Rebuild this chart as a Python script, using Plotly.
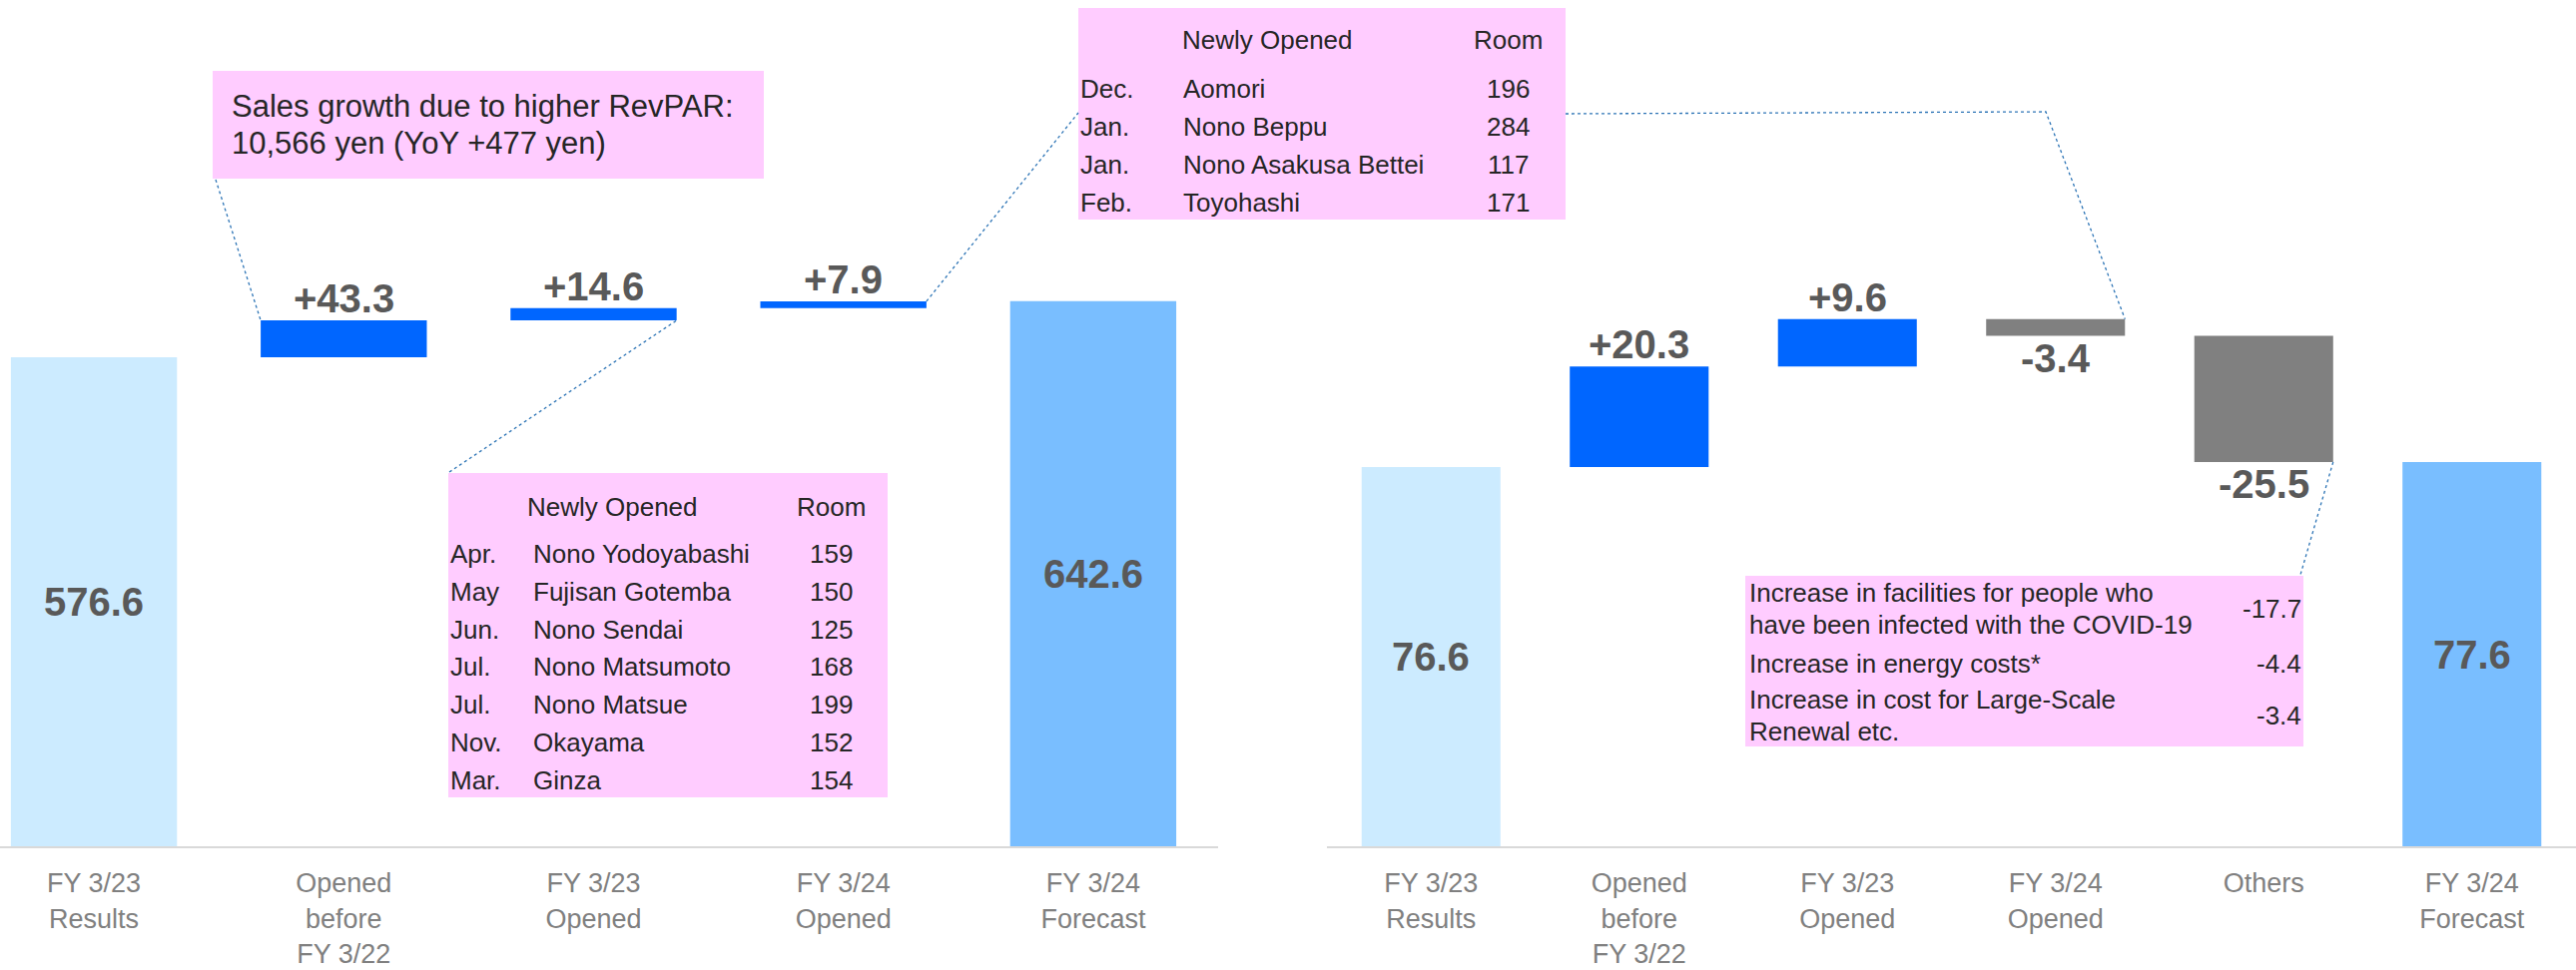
import plotly.graph_objects as go

# ---------------- data ----------------
left_categories = ["FY 3/23<br>Results", "Opened<br>before<br>FY 3/22", "FY 3/23<br>Opened",
                   "FY 3/24<br>Opened", "FY 3/24<br>Forecast"]
left_start = 576.6
left_deltas = [43.3, 14.6, 7.9]
left_end = 642.6

right_categories = ["FY 3/23<br>Results", "Opened<br>before<br>FY 3/22", "FY 3/23<br>Opened",
                    "FY 3/24<br>Opened", "Others", "FY 3/24<br>Forecast"]
right_start = 76.6
right_deltas = [20.3, 9.6, -3.4, -25.5]
right_end = 77.6

sales_note = ["Sales growth due to higher RevPAR:", "10,566 yen (YoY +477 yen)"]

table_header = ["Newly Opened", "Room"]
fy23_months = ["Apr.", "May", "Jun.", "Jul.", "Jul.", "Nov.", "Mar."]
fy23_hotels = ["Nono Yodoyabashi", "Fujisan Gotemba", "Nono Sendai", "Nono Matsumoto",
               "Nono Matsue", "Okayama", "Ginza"]
fy23_rooms = [159, 150, 125, 168, 199, 152, 154]

fy24_months = ["Dec.", "Jan.", "Jan.", "Feb."]
fy24_hotels = ["Aomori", "Nono Beppu", "Nono Asakusa Bettei", "Toyohashi"]
fy24_rooms = [196, 284, 117, 171]

others_items = ["Increase in facilities for people who<br>have been infected with the COVID-19",
                "Increase in energy costs*",
                "Increase in cost for Large-Scale<br>Renewal etc."]
others_values = [-17.7, -4.4, -3.4]

# ---------------- styling / layout geometry ----------------
W, H = 2580, 972
PB = 848                       # plot bottom in px (axis line)
FONT = "Liberation Sans, Arial, sans-serif"
C_START = "#CCEBFF"
C_UP = "#0066FF"
C_DOWN = "#808080"
C_END = "#79BEFF"
C_PINK = "#FFCCFF"
C_VAL = "#595959"
C_TICK = "#808080"
C_TXT = "#262626"
C_LEAD = "#2E75B6"

L_DOM = (0, 1220)              # px
L_RANGE = (-0.376, 4.5)
L_YMAX = PB / 0.85
R_DOM = (1329, 2580)
R_RANGE = (-0.5, 5.5)
R_YMAX = PB / 4.961
L_BW = 0.665
R_BW = 0.667


def px(x):
    return x / W


def py(y):
    return (PB - y) / PB


def lx(p):
    return L_RANGE[0] + (p - L_DOM[0]) / (L_DOM[1] - L_DOM[0]) * (L_RANGE[1] - L_RANGE[0])


def rx(p):
    return R_RANGE[0] + (p - R_DOM[0]) / (R_DOM[1] - R_DOM[0]) * (R_RANGE[1] - R_RANGE[0])


def ly(p):
    return (PB - p) / PB * L_YMAX


def ry(p):
    return (PB - p) / PB * R_YMAX


fig = go.Figure()
annotations = []
shapes = []


def waterfall(cats, start, deltas, end, xa, ya, bw):
    n = len(cats)
    bases, heights, colors = [0], [start], [C_START]
    run = start
    for d in deltas:
        bases.append(run)
        heights.append(d)
        colors.append(C_UP if d >= 0 else C_DOWN)
        run += d
    bases.append(0)
    heights.append(end)
    colors.append(C_END)
    fig.add_trace(go.Bar(
        x=list(range(n)), y=heights, base=bases, width=bw,
        marker=dict(color=colors, line=dict(width=0)),
        xaxis=xa, yaxis=ya, hoverinfo="skip", showlegend=False))
    vfont = dict(size=40, color=C_VAL, family=FONT)
    for i, (b, h) in enumerate(zip(bases, heights)):
        if i == 0 or i == n - 1:
            annotations.append(dict(x=i, y=h / 2, xref=xa, yref=ya, text=f"<b>{h:.1f}</b>",
                                    showarrow=False, font=vfont, xanchor="center", yanchor="middle"))
        elif h >= 0:
            annotations.append(dict(x=i, y=b + h, xref=xa, yref=ya, text=f"<b>{h:+.1f}</b>",
                                    showarrow=False, font=vfont, xanchor="center", yanchor="bottom",
                                    yshift=-2))
        else:
            annotations.append(dict(x=i, y=b + h, xref=xa, yref=ya, text=f"<b>{h:+.1f}</b>",
                                    showarrow=False, font=vfont, xanchor="center", yanchor="top",
                                    yshift=2))
    return bases, heights


lb, lh = waterfall(left_categories, left_start, left_deltas, left_end, "x", "y", L_BW)
rb, rh = waterfall(right_categories, right_start, right_deltas, right_end, "x2", "y2", R_BW)


def txt(x, y, s, size, anchor="left", color=C_TXT):
    annotations.append(dict(x=px(x), y=py(y), xref="paper", yref="paper", text=s, showarrow=False,
                            font=dict(size=size, color=color, family=FONT),
                            xanchor=anchor, yanchor="middle"))


def box(x0, y0, x1, y1):
    shapes.append(dict(type="rect", xref="paper", yref="paper", x0=px(x0), x1=px(x1),
                       y0=py(y1), y1=py(y0), fillcolor=C_PINK, line=dict(width=0), layer="above"))


# --- sales note box ---
box(213, 71, 765, 179)
for k, line in enumerate(sales_note):
    txt(230, 107 + 37 * k, line, 31)

# --- FY3/23 opened table ---
box(449, 474, 889, 799)
txt(526, 508, table_header[0], 26)
txt(832, 508, table_header[1], 26, "center")
for k, (m, hname, r) in enumerate(zip(fy23_months, fy23_hotels, fy23_rooms)):
    yy = 555 + 37.8 * k
    txt(449, yy, m, 26)
    txt(532, yy, hname, 26)
    txt(832, yy, str(r), 26, "center")

# --- FY3/24 opened table ---
box(1080, 8, 1568, 220)
txt(1182, 40, table_header[0], 26)
txt(1510, 40, table_header[1], 26, "center")
for k, (m, hname, r) in enumerate(zip(fy24_months, fy24_hotels, fy24_rooms)):
    yy = 89 + 38 * k
    txt(1080, yy, m, 26)
    txt(1183, yy, hname, 26)
    txt(1510, yy, str(r), 26, "center")

# --- Others box ---
box(1748, 577, 2307, 748)
item_centers = [610, 665, 717]
for item, val, yc in zip(others_items, others_values, item_centers):
    lines = item.split("<br>")
    nl = len(lines)
    for j, line in enumerate(lines):
        txt(1750, yc + (j - (nl - 1) / 2) * 32, line, 26)
    txt(2307, yc, f"{val:.1f}", 26, "right")

# --- leader lines ---
lead = dict(color=C_LEAD, width=1.3, dash="dot")
shapes.append(dict(type="line", xref="x", yref="y", x0=lx(216), y0=ly(180),
                   x1=1 - L_BW / 2, y1=lb[1] + lh[1], line=lead, layer="above"))
shapes.append(dict(type="line", xref="x", yref="y", x0=lx(450), y0=ly(473),
                   x1=2 + L_BW / 2, y1=lb[2], line=lead, layer="above"))
shapes.append(dict(type="line", xref="x", yref="y", x0=3 + L_BW / 2, y0=lb[3] + lh[3],
                   x1=lx(1080), y1=ly(113), line=lead, layer="above"))
p4 = (rx(1568), ry(114), rx(2049), ry(112), 3 + R_BW / 2, rb[3])
shapes.append(dict(type="path", xref="x2", yref="y2",
                   path=f"M {p4[0]},{p4[1]} L {p4[2]},{p4[3]} L {p4[4]},{p4[5]}",
                   line=lead, layer="above"))
shapes.append(dict(type="line", xref="x2", yref="y2", x0=4 + R_BW / 2, y0=rb[4] + rh[4],
                   x1=rx(2304), y1=ry(576), line=lead, layer="above"))

axis_common = dict(showgrid=False, zeroline=False, showline=True, linecolor="#D9D9D9", linewidth=2,
                   ticks="", tickfont=dict(size=27, color=C_TICK, family=FONT),
                   ticklabelstandoff=12, fixedrange=True, automargin=False)
fig.update_layout(
    width=W, height=H,
    margin=dict(l=0, r=0, t=0, b=H - PB, pad=0, autoexpand=False),
    paper_bgcolor="white", plot_bgcolor="white",
    barmode="overlay",
    xaxis=dict(domain=[px(L_DOM[0]), px(L_DOM[1])], range=list(L_RANGE),
               tickmode="array", tickvals=list(range(len(left_categories))), ticktext=left_categories,
               **axis_common),
    yaxis=dict(domain=[0, 1], range=[0, L_YMAX], visible=False, fixedrange=True, automargin=False),
    xaxis2=dict(domain=[px(R_DOM[0]), 1], range=list(R_RANGE), anchor="y2",
                tickmode="array", tickvals=list(range(len(right_categories))), ticktext=right_categories,
                **axis_common),
    yaxis2=dict(domain=[0, 1], range=[0, R_YMAX], visible=False, anchor="x2", fixedrange=True,
                automargin=False),
    annotations=annotations,
    shapes=shapes,
    font=dict(family=FONT),
)

fig.write_html("out.html", config={"displayModeBar": False},
               post_script="document.body.style.margin='0';document.body.style.overflow='hidden';")
